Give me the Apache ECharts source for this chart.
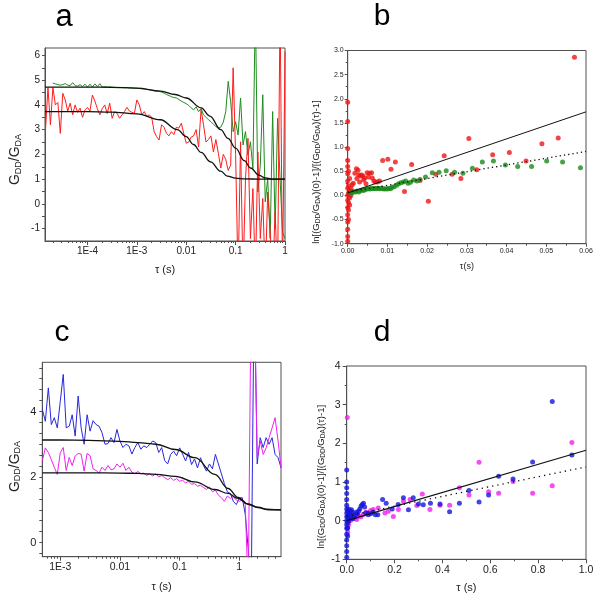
<!DOCTYPE html>
<html><head><meta charset="utf-8">
<script src="https://cdn.jsdelivr.net/npm/echarts@6/dist/echarts.min.js"></script>
<style>html,body{margin:0;padding:0;background:#fff}#c{width:600px;height:600px}</style>
</head><body><div id="c"></div><script>
// ---------- Panel a data ----------
const tauA = [
1.413e-5,1.585e-5,1.778e-5,1.995e-5,2.239e-5,2.512e-5,2.818e-5,3.162e-5,3.548e-5,3.981e-5,4.467e-5,5.012e-5,5.623e-5,6.310e-5,7.079e-5,7.943e-5,8.913e-5,
1.000e-4,1.122e-4,1.259e-4,1.413e-4,1.585e-4,1.778e-4,1.995e-4,2.239e-4,2.512e-4,2.818e-4,3.162e-4,3.548e-4,3.981e-4,4.467e-4,5.012e-4,5.623e-4,6.310e-4,7.079e-4,7.943e-4,8.913e-4,
1.000e-3,1.122e-3,1.259e-3,1.413e-3,1.585e-3,1.778e-3,1.995e-3,2.239e-3,2.512e-3,2.818e-3,3.162e-3,3.548e-3,3.981e-3,4.467e-3,5.012e-3,5.623e-3,6.310e-3,7.079e-3,7.943e-3,8.913e-3,
1.000e-2,1.122e-2,1.259e-2,1.413e-2,1.585e-2,1.778e-2,1.995e-2,2.239e-2,2.512e-2,2.818e-2,3.162e-2,3.548e-2,3.981e-2,4.467e-2,5.012e-2,5.623e-2,6.310e-2,7.079e-2,7.943e-2,8.913e-2,
1.000e-1,1.122e-1,1.259e-1,1.413e-1,1.585e-1,1.778e-1,1.995e-1,2.239e-1,2.512e-1,2.818e-1,3.162e-1,3.548e-1,3.981e-1,4.467e-1,5.012e-1,5.623e-1,6.310e-1,7.079e-1,7.943e-1,8.913e-1,
1.0];
const redA = [3.0,4.7,3.2,4.7,4.0,4.1,2.85,4.47,4.2,3.75,4.07,3.6,4.0,3.7,3.87,3.5,3.8,3.9,3.75,4.4,
4.15,3.85,3.6,3.85,4.0,3.65,4.07,3.46,3.73,3.66,3.46,3.6,3.73,3.9,3.75,3.7,3.66,4.2,4.0,3.6,
3.73,3.53,3.6,3.5,2.92,2.72,2.58,3.2,3.1,2.85,2.75,2.92,2.8,3.1,3.06,3.26,2.85,2.45,2.5,2.7,
2.75,3.0,2.3,3.8,3.2,2.5,2.6,2.75,2.1,2.6,2.05,1.45,2.0,1.8,1.35,1.57,5.5,2.0,-3,2.51,
-3,1.03,2.65,-1.4,0.62,-3,2.1,-1.4,0.22,-3,0.48,-1.14,-3,-0.33,-3,8,-3,6.16];
const greenA = [null,null,null,4.88,4.85,4.82,4.80,4.82,4.86,4.80,4.78,4.90,4.78,4.76,4.82,4.74,4.84,4.72,4.84,4.72,
4.85,4.74,4.86,4.72,4.74,4.72,4.73,4.72,4.71,4.70,4.70,4.70,4.69,4.70,4.68,4.68,4.67,4.67,4.66,4.65,
4.64,4.63,4.62,4.60,4.58,4.56,4.55,4.52,4.48,4.42,4.38,4.33,4.30,4.28,4.22,4.15,4.10,4.05,3.98,3.88,
3.80,3.92,3.73,3.85,3.60,3.50,3.40,3.32,3.22,3.12,3.06,3.10,3.30,3.73,4.95,4.13,2.92,3.32,2.78,4.28,
2.38,2.92,1.97,2.51,1.43,8,0.48,1.57,4.41,0.08,1.03,-1.4,3.73,-1.0,3.46,1.03,-1.14,-1.4];
const fitAUpTau = [1.38e-5,1e-4,3e-4,1e-3,3e-3,0.006,0.01,0.02,0.03,0.05,0.07,0.1,0.15,0.2,0.3,0.4,0.6,1];
const fitAUp    = [4.72,4.72,4.71,4.68,4.56,4.42,4.28,3.88,3.55,3.0,2.65,2.25,1.75,1.45,1.15,1.05,1.0,1.0];
const fitALoTau = [1.38e-5,1e-4,3e-4,1e-3,0.003,0.0066,0.01,0.014,0.02,0.031,0.05,0.068,0.1,0.15,0.3,1];
const fitALo    = [3.73,3.73,3.71,3.64,3.4,3.0,2.72,2.4,2.08,1.7,1.32,1.12,1.04,1.01,1.0,1.0];
const aTickLabels = [1e-4,1e-3,0.01,0.1,1];
const aYLabels = [-1,0,1,2,3,4,5,6];

// ---------- Panel b data ----------
const bRed = [[0,1.93],[0,1.53],[0,0.97],[0,0.72],[0,0.6],[0,0.45],[0,0.3],[0,0.15],[0,0.0],[0,-0.1],[0,-0.25],[0,-0.4],[0,-0.55],[0,-0.7],[0,-0.85],[0,-0.95],
[0.0002,0.5],[0.0002,0.2],[0.0002,0.05],[0.0002,-0.15],[0.0002,-0.3],[0.0002,-0.5],
[0.0005,0.35],[0.0005,0.1],[0.0005,-0.05],[0.0005,-0.2],[0.0008,0.15],[0.0008,0.0],[0.001,0.08],[0.0011,0.22],
[0.0014,0.25],[0.0018,0.46],[0.0022,0.55],[0.0023,0.35],[0.0026,0.52],[0.0028,0.42],[0.003,0.28],[0.0032,0.4],[0.0035,0.42],[0.0038,0.4],[0.004,0.32],[0.0043,0.36],[0.0046,0.24],[0.0049,0.47],[0.0052,0.38],[0.0055,0.46],[0.006,0.47],[0.0062,0.36],[0.0066,0.3],[0.007,0.28],[0.0075,0.28],[0.008,0.3],
[0.0088,0.72],[0.0101,0.75],[0.0109,0.54],[0.012,0.69],[0.0143,0.08],[0.0161,0.64],
[0.0182,0.31],[0.0203,-0.12],[0.0222,0.44],[0.0243,0.82],[0.0263,0.44],[0.0285,0.35],[0.0305,1.18],[0.0325,0.53],[0.0365,0.84],[0.0407,0.89],[0.0449,0.71],[0.0489,1.07],[0.053,1.19],[0.0571,2.86]];
const bGreen = [[0.0008,0.05],[0.0012,0.06],[0.0016,0.08],[0.002,0.07],[0.0024,0.09],[0.0028,0.07],[0.0032,0.1],[0.0036,0.11],[0.004,0.1],[0.0044,0.12],[0.0048,0.13],[0.0052,0.14],[0.0056,0.13],[0.006,0.15],[0.0064,0.14],[0.0068,0.15],[0.0072,0.14],[0.0076,0.15],[0.008,0.14],[0.0084,0.15],[0.0088,0.14],[0.0092,0.13],[0.0096,0.14],[0.01,0.13],[0.0104,0.15],[0.0108,0.14],[0.0112,0.17],[0.0117,0.18],[0.0123,0.21],[0.0128,0.24],[0.0134,0.26],[0.014,0.28],[0.0146,0.3],[0.0152,0.25],[0.0158,0.27],[0.0166,0.32],[0.0174,0.3],[0.0182,0.33],[0.0196,0.38],[0.0213,0.47],[0.023,0.48],[0.0248,0.51],[0.0269,0.48],[0.029,0.46],[0.0314,0.56],[0.0339,0.69],[0.0367,0.71],[0.0397,0.63],[0.0428,0.6],[0.0463,0.6],[0.0501,0.71],[0.0541,0.69],[0.0586,0.57]];
const bSolid = [[0,0.05],[0.06,1.73]];
const bDotted = [[0,0.07],[0.06,0.91]];

// ---------- Panel c data ----------
const tauC = [5.012e-4,5.623e-4,6.310e-4,7.079e-4,7.943e-4,8.913e-4,
1.000e-3,1.122e-3,1.259e-3,1.413e-3,1.585e-3,1.778e-3,1.995e-3,2.239e-3,2.512e-3,2.818e-3,3.162e-3,3.548e-3,3.981e-3,4.467e-3,5.012e-3,5.623e-3,6.310e-3,7.079e-3,7.943e-3,8.913e-3,
1.000e-2,1.122e-2,1.259e-2,1.413e-2,1.585e-2,1.778e-2,1.995e-2,2.239e-2,2.512e-2,2.818e-2,3.162e-2,3.548e-2,3.981e-2,4.467e-2,5.012e-2,5.623e-2,6.310e-2,7.079e-2,7.943e-2,8.913e-2,
1.000e-1,1.122e-1,1.259e-1,1.413e-1,1.585e-1,1.778e-1,1.995e-1,2.239e-1,2.512e-1,2.818e-1,3.162e-1,3.548e-1,3.981e-1,4.467e-1,5.012e-1,5.623e-1,6.310e-1,7.079e-1,7.943e-1,8.913e-1,
1.000,1.122,1.259,1.413,1.585,1.778,1.995,2.239,2.512,2.818,3.162,3.548,3.981,4.467,5.012];
const blueC = [4.06,3.7,4.72,3.6,3.81,3.5,4.3,5.13,3.5,3.55,3.9,3.25,4.47,3.5,3.0,3.9,3.4,3.72,3.6,3.55,
3.35,3.0,3.02,3.2,3.05,3.45,3.1,2.9,3.0,2.95,2.7,2.9,3.05,2.85,2.95,2.9,3.0,3.1,3.05,2.75,
2.9,2.5,2.4,2.69,2.79,2.65,2.89,2.7,2.49,2.75,2.38,2.55,2.28,2.59,2.35,2.18,2.4,2.25,2.69,2.4,
2.1,1.8,1.55,1.5,1.26,1.16,1.35,1.37,0.86,-0.2,-1.5,8,2.4,3.2,2.9,3.2,3.0,3.2,2.69,2.59,2.28];
const magentaC = [2.5,2.89,2.75,2.53,2.3,2.08,2.74,2.9,2.2,2.6,2.35,2.64,2.72,2.7,2.18,2.72,2.65,2.25,2.2,2.12,
2.3,2.2,2.35,2.22,2.25,2.4,2.3,2.42,2.2,2.3,2.15,2.1,2.17,2.1,2.12,2.05,2.1,2.03,2.1,2.0,
2.05,1.98,1.92,1.98,1.9,1.95,1.87,1.9,1.82,1.87,1.78,1.8,1.72,1.75,1.68,1.62,1.7,1.55,1.6,1.45,
1.37,1.26,1.42,1.35,1.4,1.3,1.26,1.3,1.16,-1.5,8,8,2.59,3.1,2.69,2.89,3.2,3.5,3.81,3.1,2.28];
const fitCTau = [5e-4,1e-3,3e-3,0.01,0.02,0.04,0.085,0.18,0.39,0.65,0.95,1.4,2.05,3.0,5.0];
const fitCUp  = [3.13,3.13,3.12,3.09,3.05,3.0,2.84,2.59,2.08,1.65,1.38,1.18,1.08,1.01,1.0];
const fitCLo  = [2.13,2.13,2.13,2.12,2.11,2.08,2.02,1.85,1.62,1.5,1.35,1.17,1.07,1.01,1.0];
const cTickLabels = [1e-3,0.01,0.1,1];
const cYLabels = [0,2,4];

// ---------- Panel d data ----------
const dBlue = [[0,1.31],[0,1.0],[0,0.85],[0,0.7],[0,0.55],[0,0.4],[0,0.3],[0,0.2],[0,0.1],[0,0.0],[0,-0.1],[0,-0.2],[0,-0.35],[0,-0.5],[0,-0.65],[0,-0.8],[0,-0.95],
[0.004,0.25],[0.004,0.1],[0.004,-0.05],[0.004,-0.2],[0.004,-0.4],
[0.008,0.3],[0.008,0.15],[0.008,0.0],[0.012,0.2],[0.012,0.05],[0.016,0.25],[0.016,0.1],[0.02,0.28],[0.02,0.12],[0.025,0.22],[0.025,0.05],[0.03,0.15],[0.035,0.1],[0.04,0.22],[0.045,0.18],[0.05,0.25],[0.055,0.3],[0.06,0.38],[0.065,0.42],[0.07,0.45],[0.075,0.35],[0.08,0.2],[0.09,0.15],[0.1,0.18],[0.11,0.22],[0.12,0.15],[0.13,0.15],[0.15,0.55],[0.165,0.45],[0.19,0.3],[0.215,0.42],[0.237,0.59],[0.258,0.28],[0.278,0.59],[0.3,0.43],[0.32,0.41],[0.35,0.45],[0.39,0.43],[0.43,0.23],[0.471,0.45],[0.511,0.78],[0.553,0.48],[0.593,0.66],[0.635,1.15],[0.695,1.08],[0.777,1.52],[0.859,3.08],[0.941,1.7]];
const dMagenta = [[0.0025,2.67],[0.004,-0.3],[0.004,-0.15],[0.006,0.0],[0.008,-0.1],[0.01,0.05],[0.015,0.0],[0.02,0.08],[0.025,0.05],[0.03,0.1],[0.035,0.06],[0.042,0.03],[0.05,0.12],[0.06,0.1],[0.069,0.16],[0.08,0.22],[0.09,0.2],[0.1,0.26],[0.111,0.29],[0.132,0.33],[0.16,0.2],[0.174,0.24],[0.195,0.11],[0.216,0.29],[0.237,0.5],[0.265,0.55],[0.293,0.39],[0.316,0.69],[0.348,0.29],[0.39,0.4],[0.43,0.4],[0.471,0.85],[0.511,0.66],[0.553,1.51],[0.593,0.75],[0.635,0.71],[0.695,1.01],[0.777,0.71],[0.859,0.9],[0.941,2.02]];
const dSolid = [[0,0.0],[1,1.82]];
const dDotted = [[0,0.12],[1,1.39]];

// ---------- build ----------
const FONT = '"Liberation Sans", Arial, sans-serif';
const AX = '#505050', TXT = '#222';
const zip = (xs, ys) => xs.map((x, i) => [x, ys[i]]);
function logLabel(v) {
  const e = Math.round(Math.log10(v));
  if (e <= -3) return '1E' + e;
  if (e === -2) return '0.01';
  if (e === -1) return '0.1';
  if (e === 0) return '1';
  return '';
}
function minorLog(lo, hi) {
  const out = [];
  for (let e = -6; e <= 1; e++) for (let m = 2; m <= 9; m++) {
    const v = m * Math.pow(10, e);
    if (v > lo && v < hi) out.push(v);
  }
  return out;
}
function steps(lo, hi, st) { const o = []; for (let v = lo; v <= hi + 1e-9; v += st) o.push(+v.toFixed(6)); return o; }

const axLine = {show: true, onZero: false, lineStyle: {color: AX, width: 1}};
function xMain(grid, type, min, max, extra) {
  return Object.assign({gridIndex: grid, type, min, max, position: 'bottom',
    axisLine: axLine, splitLine: {show: false},
    nameLocation: 'middle', name: 'τ (s)',
    nameTextStyle: {color: TXT, fontFamily: FONT, fontSize: 11}}, extra);
}
function yMain(grid, min, max, extra) {
  return Object.assign({gridIndex: grid, type: 'value', min, max, position: 'left',
    axisLine: axLine, splitLine: {show: false}, nameLocation: 'middle', nameRotate: 90}, extra);
}
const subRich = (sfs, pad) => ({s: {fontSize: sfs, fontFamily: FONT, color: TXT, padding: [pad, 0, 0, 0]}});

const lnName = 'ln[(G{s|DD}/G{s|DA})(0)-1]/[(G{s|DD}/G{s|DA})(τ)-1]';

const option = {
  animation: false,
  backgroundColor: '#fff',
  grid: [
    {left: 45, top: 48, width: 240, height: 193},
    {left: 347.7, top: 50.5, width: 238.3, height: 193.2},
    {left: 42.3, top: 362.3, width: 238.7, height: 194.4},
    {left: 346.7, top: 366, width: 239.3, height: 193.3}
  ].map(g => Object.assign({show: true, borderColor: AX, borderWidth: 1, backgroundColor: 'transparent', containLabel: false, outerBoundsMode: 'none'}, g)),
  xAxis: [
    xMain(0, 'log', 1.38e-5, 1, {nameGap: 23,
      axisTick: {length: 4, lineStyle: {color: AX}, customValues: aTickLabels},
      axisLabel: {customValues: aTickLabels, formatter: logLabel, color: TXT, fontFamily: FONT, fontSize: 10, margin: 5}}),
    {gridIndex: 0, type: 'log', min: 1.38e-5, max: 1, position: 'bottom', axisLine: {show: false, onZero: false},
      splitLine: {show: false}, axisLabel: {show: false},
      axisTick: {length: 2, lineStyle: {color: AX}, customValues: minorLog(1.38e-5, 1)}},
    xMain(1, 'value', 0, 0.06, {interval: 0.01, nameGap: 18, name: 'τ(s)',
      nameTextStyle: {color: TXT, fontFamily: FONT, fontSize: 9},
      axisTick: {length: 3, lineStyle: {color: AX}}, minorTick: {show: true, splitNumber: 2, length: 2, lineStyle: {color: AX}},
      axisLabel: {formatter: v => v.toFixed(2), color: TXT, fontFamily: FONT, fontSize: 7, margin: 4}}),
    xMain(2, 'log', 5e-4, 5, {nameGap: 25,
      axisTick: {length: 4, lineStyle: {color: AX}, customValues: cTickLabels},
      axisLabel: {customValues: cTickLabels, formatter: logLabel, color: TXT, fontFamily: FONT, fontSize: 10.5, margin: 5}}),
    {gridIndex: 2, type: 'log', min: 5e-4, max: 5, position: 'bottom', axisLine: {show: false, onZero: false},
      splitLine: {show: false}, axisLabel: {show: false},
      axisTick: {length: 2, lineStyle: {color: AX}, customValues: minorLog(5e-4, 5)}},
    xMain(3, 'value', 0, 1, {interval: 0.2, nameGap: 23,
      axisTick: {length: 4, lineStyle: {color: AX}}, minorTick: {show: true, splitNumber: 2, length: 2, lineStyle: {color: AX}},
      axisLabel: {formatter: v => v.toFixed(1), color: TXT, fontFamily: FONT, fontSize: 10.5, margin: 5}})
  ],
  yAxis: [
    yMain(0, -1.5, 6.3, {nameGap: 22, name: 'G{s|DD}/G{s|DA}',
      nameTextStyle: {color: TXT, fontFamily: FONT, fontSize: 14, padding: [0, 30, 0, 0], rich: subRich(9, 6)},
      axisTick: {length: 3, lineStyle: {color: AX}, customValues: steps(-1, 6, 0.5)},
      axisLabel: {customValues: aYLabels, color: TXT, fontFamily: FONT, fontSize: 10, margin: 5}}),
    yMain(1, -1, 3, {interval: 0.5, nameGap: 26, name: lnName,
      nameTextStyle: {color: TXT, fontFamily: FONT, fontSize: 9.5, padding: [0, 50, 0, 0], rich: subRich(6.5, 4)},
      axisTick: {length: 3, lineStyle: {color: AX}}, minorTick: {show: true, splitNumber: 2, length: 2, lineStyle: {color: AX}},
      axisLabel: {formatter: v => v.toFixed(1), color: TXT, fontFamily: FONT, fontSize: 7, margin: 4}}),
    yMain(2, -0.43, 5.5, {nameGap: 20, name: 'G{s|DD}/G{s|DA}',
      nameTextStyle: {color: TXT, fontFamily: FONT, fontSize: 14, padding: [0, 14, 0, 0], rich: subRich(9, 6)},
      axisTick: {length: 3, lineStyle: {color: AX}, customValues: steps(-1/3, 5.4, 1/3)},
      axisLabel: {customValues: cYLabels, color: TXT, fontFamily: FONT, fontSize: 11, margin: 6}}),
    yMain(3, -1, 4, {interval: 1, nameGap: 20, name: lnName,
      nameTextStyle: {color: TXT, fontFamily: FONT, fontSize: 9.5, padding: [0, 28, 0, 0], rich: subRich(6.5, 4)},
      axisTick: {length: 4, lineStyle: {color: AX}}, minorTick: {show: true, splitNumber: 2, length: 2, lineStyle: {color: AX}},
      axisLabel: {color: TXT, fontFamily: FONT, fontSize: 10.5, margin: 6}})
  ],
  series: [
    {type: 'line', xAxisIndex: 0, yAxisIndex: 0, data: zip(tauA, greenA), symbol: 'none', lineStyle: {color: '#1e8c1e', width: 1}, z: 2},
    {type: 'line', xAxisIndex: 0, yAxisIndex: 0, data: zip(tauA, redA), symbol: 'none', lineStyle: {color: '#ff1c1c', width: 1}, z: 3},
    {type: 'line', xAxisIndex: 0, yAxisIndex: 0, data: zip(fitAUpTau, fitAUp), symbol: 'none', smooth: 0.4, smoothMonotone: 'x', lineStyle: {color: '#111', width: 1.3}, z: 4},
    {type: 'line', xAxisIndex: 0, yAxisIndex: 0, data: zip(fitALoTau, fitALo), symbol: 'none', smooth: 0.4, smoothMonotone: 'x', lineStyle: {color: '#111', width: 1.3}, z: 4},

    {type: 'scatter', xAxisIndex: 2, yAxisIndex: 1, data: bRed, symbolSize: 5, itemStyle: {color: '#ee1515'}, z: 2},
    {type: 'scatter', xAxisIndex: 2, yAxisIndex: 1, data: bGreen, symbolSize: 5, itemStyle: {color: '#1a8a1a'}, z: 3},
    {type: 'line', xAxisIndex: 2, yAxisIndex: 1, data: bSolid, symbol: 'none', lineStyle: {color: '#111', width: 1}, z: 4},
    {type: 'line', xAxisIndex: 2, yAxisIndex: 1, data: bDotted, symbol: 'none', lineStyle: {color: '#111', width: 1.3, type: [1.3, 3]}, z: 4},

    {type: 'line', xAxisIndex: 3, yAxisIndex: 2, data: zip(tauC, blueC), symbol: 'none', lineStyle: {color: '#2828dc', width: 1}, z: 2},
    {type: 'line', xAxisIndex: 3, yAxisIndex: 2, data: zip(tauC, magentaC), symbol: 'none', lineStyle: {color: '#ee22ee', width: 1}, z: 3},
    {type: 'line', xAxisIndex: 3, yAxisIndex: 2, data: zip(fitCTau, fitCUp), symbol: 'none', smooth: 0.4, smoothMonotone: 'x', lineStyle: {color: '#111', width: 1.3}, z: 4},
    {type: 'line', xAxisIndex: 3, yAxisIndex: 2, data: zip(fitCTau, fitCLo), symbol: 'none', smooth: 0.4, smoothMonotone: 'x', lineStyle: {color: '#111', width: 1.3}, z: 4},

    {type: 'scatter', xAxisIndex: 5, yAxisIndex: 3, data: dMagenta, symbolSize: 5, itemStyle: {color: '#ee22ee'}, z: 2},
    {type: 'scatter', xAxisIndex: 5, yAxisIndex: 3, data: dBlue, symbolSize: 5, itemStyle: {color: '#1515dd'}, z: 3},
    {type: 'line', xAxisIndex: 5, yAxisIndex: 3, data: dSolid, symbol: 'none', lineStyle: {color: '#111', width: 1.2}, z: 4},
    {type: 'line', xAxisIndex: 5, yAxisIndex: 3, data: dDotted, symbol: 'none', lineStyle: {color: '#111', width: 1.3, type: [1.3, 4]}, z: 4}
  ],
  graphic: [
    {type: 'text', x: 64, y: 33, style: {text: 'a', font: '31px ' + FONT, fill: '#000', align: 'center', verticalAlign: 'bottom'}},
    {type: 'text', x: 382, y: 32, style: {text: 'b', font: '30px ' + FONT, fill: '#000', align: 'center', verticalAlign: 'bottom'}},
    {type: 'text', x: 62, y: 348, style: {text: 'c', font: '30px ' + FONT, fill: '#000', align: 'center', verticalAlign: 'bottom'}},
    {type: 'text', x: 382, y: 348, style: {text: 'd', font: '30px ' + FONT, fill: '#000', align: 'center', verticalAlign: 'bottom'}}
  ]
};
const chart = echarts.init(document.getElementById('c'));
chart.setOption(option);
</script></body></html>
